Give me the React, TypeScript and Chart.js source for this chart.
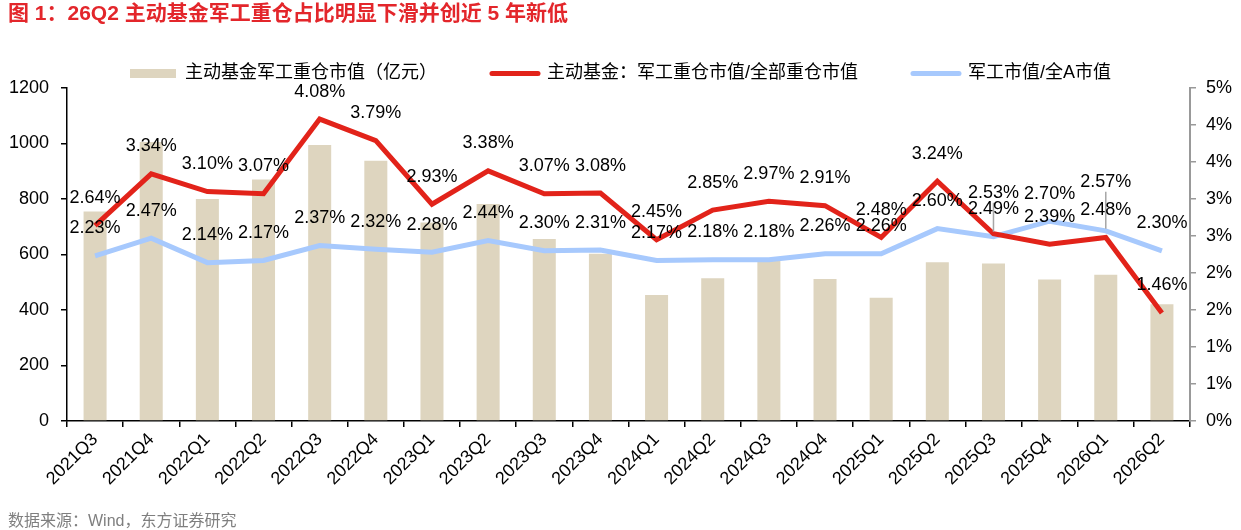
import React, { useEffect, useRef } from 'react';
import { Chart, registerables } from 'chart.js';

Chart.register(...registerables);

const FONT = '"Liberation Sans", "Noto Sans CJK SC", "Noto Sans", sans-serif';

const categories = [
  '2021Q3', '2021Q4', '2022Q1', '2022Q2', '2022Q3', '2022Q4', '2023Q1', '2023Q2', '2023Q3', '2023Q4',
  '2024Q1', '2024Q2', '2024Q3', '2024Q4', '2025Q1', '2025Q2', '2025Q3', '2025Q4', '2026Q1', '2026Q2',
];

// 主动基金军工重仓市值（亿元）
const holdingValue = [755, 1005, 800, 870, 995, 938, 715, 782, 656, 603, 454, 514, 585, 512, 444, 572, 568, 510, 527, 421];

// 主动基金：军工重仓市值/全部重仓市值 (%)
const fundShare = [2.64, 3.34, 3.10, 3.07, 4.08, 3.79, 2.93, 3.38, 3.07, 3.08, 2.45, 2.85, 2.97, 2.91, 2.48, 3.24, 2.53, 2.39, 2.48, 1.46];

// 军工市值/全A市值 (%)
const marketShare = [2.23, 2.47, 2.14, 2.17, 2.37, 2.32, 2.28, 2.44, 2.30, 2.31, 2.17, 2.18, 2.18, 2.26, 2.26, 2.60, 2.49, 2.70, 2.57, 2.30];

const seriesNames = ['主动基金军工重仓市值（亿元）', '主动基金：军工重仓市值/全部重仓市值', '军工市值/全A市值'];

const leftMax = 1200;
const leftStep = 200;
const rightMax = 4.5;
const rightStep = 0.5;

const TITLE = '图 1：26Q2 主动基金军工重仓占比明显下滑并创近 5 年新低';
const SOURCE = '数据来源：Wind，东方证券研究';

const BAR_COLOR = '#ded5bf';
const RED = '#e2231a';
const BLUE = '#a7c9fd';

// label placement (pixels above the point); a few labels were moved to avoid overlaps
const LABEL_LIFT = 27.5;
const liftOverrides: Record<number, Record<number, number>> = {
  1: { 16: 41 },
  2: { 18: 49 },
};

const legendNudge = {
  id: 'legendNudge',
  afterLayout(chart: any) {
    const lg = chart.legend;
    if (lg) {
      lg.top += 4.5;
      lg.bottom += 4.5;
    }
  },
};

const pointLabels = {
  id: 'pointLabels',
  afterDatasetsDraw(chart: any) {
    const ctx = chart.ctx;
    ctx.save();
    // leader lines
    ctx.strokeStyle = '#a6a6a6';
    ctx.lineWidth = 1.5;
    [1, 2].forEach((di) => {
      const meta = chart.getDatasetMeta(di);
      const ov = liftOverrides[di] || {};
      Object.keys(ov).forEach((k) => {
        const j = Number(k);
        const pt = meta.data[j];
        if (!pt) return;
        ctx.beginPath();
        ctx.moveTo(pt.x, pt.y - ov[j] + 10);
        ctx.lineTo(pt.x, pt.y - 2);
        ctx.stroke();
      });
    });
    ctx.font = '18px ' + FONT;
    ctx.fillStyle = '#000';
    ctx.textAlign = 'center';
    ctx.textBaseline = 'middle';
    [1, 2].forEach((di) => {
      const meta = chart.getDatasetMeta(di);
      const data = chart.data.datasets[di].data as number[];
      const ov = liftOverrides[di] || {};
      meta.data.forEach((pt: any, j: number) => {
        const lift = ov[j] !== undefined ? ov[j] : LABEL_LIFT;
        ctx.fillText(data[j].toFixed(2) + '%', pt.x, pt.y - lift);
      });
    });
    ctx.restore();
  },
};

export default function App() {
  const canvasRef = useRef<HTMLCanvasElement | null>(null);

  useEffect(() => {
    if (!canvasRef.current) return;
    Chart.defaults.font.family = FONT;
    Chart.defaults.color = '#000';
    const chart = new Chart(canvasRef.current, {
      type: 'bar',
      data: {
        labels: categories,
        datasets: [
          {
            type: 'bar',
            label: seriesNames[0],
            data: holdingValue,
            backgroundColor: BAR_COLOR,
            borderWidth: 0,
            yAxisID: 'y',
            order: 3,
            barPercentage: 0.41,
            categoryPercentage: 1,
          } as any,
          {
            type: 'line',
            label: seriesNames[1],
            data: fundShare,
            borderColor: RED,
            backgroundColor: RED,
            borderWidth: 5,
            pointRadius: 0,
            tension: 0,
            yAxisID: 'y1',
            order: 1,
          } as any,
          {
            type: 'line',
            label: seriesNames[2],
            data: marketShare,
            borderColor: BLUE,
            backgroundColor: BLUE,
            borderWidth: 5,
            pointRadius: 0,
            tension: 0,
            yAxisID: 'y1',
            order: 2,
          } as any,
        ],
      },
      options: {
        responsive: true,
        maintainAspectRatio: false,
        animation: false,
        layout: { padding: { top: 5, left: 0, right: 0, bottom: 0 } },
        plugins: {
          legend: {
            position: 'top',
            labels: {
              usePointStyle: true,
              pointStyleWidth: 46,
              boxHeight: 9,
              padding: 55,
              color: '#000',
              font: { size: 18, family: FONT },
              generateLabels: (c: any) =>
                c.data.datasets.map((ds: any, i: number) => ({
                  text: ds.label,
                  fillStyle: i === 0 ? BAR_COLOR : ds.borderColor,
                  strokeStyle: i === 0 ? BAR_COLOR : ds.borderColor,
                  lineWidth: i === 0 ? 0 : 5,
                  lineCap: 'round',
                  pointStyle: i === 0 ? 'rect' : 'line',
                  hidden: false,
                  datasetIndex: i,
                  fontColor: '#000',
                })),
            },
          },
          title: { display: false },
          tooltip: { enabled: false },
        },
        scales: {
          x: {
            offset: true,
            grid: { display: true, drawOnChartArea: false, drawTicks: true, tickLength: 6, color: '#000', lineWidth: 1.5, offset: true },
            border: { display: true, color: '#000', width: 1.5 },
            ticks: { maxRotation: 45, minRotation: 45, autoSkip: false, color: '#000', font: { size: 18, family: FONT }, padding: 2 },
            afterFit: (s: any) => { s.height = 109; },
          },
          y: {
            position: 'left',
            min: 0,
            max: leftMax,
            ticks: {
              stepSize: leftStep,
              color: '#000',
              font: { size: 18, family: FONT },
              padding: 12,
              callback: (v: any) => String(v),
            },
            grid: { display: true, drawOnChartArea: false, tickLength: 6, color: '#000', lineWidth: 1.5 },
            border: { display: true, color: '#000', width: 1.5 },
            afterFit: (s: any) => { s.width = 67; },
          },
          y1: {
            position: 'right',
            min: 0,
            max: rightMax,
            ticks: {
              stepSize: rightStep,
              color: '#000',
              font: { size: 18, family: FONT },
              padding: 10,
              callback: (v: any) => Math.round(Number(v)) + '%',
            },
            grid: { display: true, drawOnChartArea: false, tickLength: 6, color: '#999', lineWidth: 1.5 },
            border: { display: true, color: '#999', width: 2 },
            afterFit: (s: any) => { s.width = 51; },
          },
        },
      } as any,
      plugins: [legendNudge, pointLabels] as any,
    });
    return () => chart.destroy();
  }, []);

  return (
    <div style={{ position: 'absolute', left: 0, top: 0, width: 1241, height: 530, background: '#fff', overflow: 'hidden' }}>
      <canvas ref={canvasRef} />
      <div
        style={{
          position: 'absolute', left: 8, top: 2, fontSize: 21, lineHeight: '21px', fontWeight: 'bold',
          color: '#e3262b', fontFamily: FONT, whiteSpace: 'nowrap',
        }}
      >
        {TITLE}
      </div>
      <div
        style={{
          position: 'absolute', left: 8, top: 511, fontSize: 16, lineHeight: '19px',
          color: '#7f7f7f', fontFamily: FONT, whiteSpace: 'nowrap',
        }}
      >
        {SOURCE}
      </div>
    </div>
  );
}
